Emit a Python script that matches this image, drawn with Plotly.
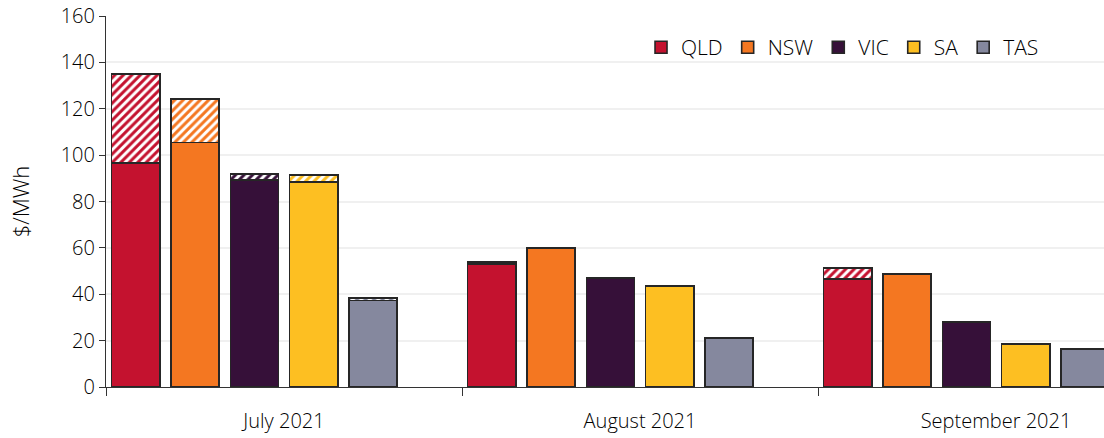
import plotly.graph_objects as go

# Monthly average spot prices by region ($/MWh)
months = ["July 2021", "August 2021", "September 2021"]
regions = ["QLD", "NSW", "VIC", "SA", "TAS"]
colors = ["#C4122F", "#F47721", "#361039", "#FDBF22", "#85889E"]

# Solid portion of each bar
base_qld = [96.5, 53.0, 46.6]
base_nsw = [105.5, 60.0, 48.7]
base_vic = [89.3, 47.0, 28.0]
base_sa = [88.5, 43.6, 18.5]
base_tas = [37.3, 21.1, 16.4]

# Hatched increment stacked on top (None = no increment)
extra_qld = [38.5, 0.8, 4.7]
extra_nsw = [18.7, None, None]
extra_vic = [2.5, None, None]
extra_sa = [2.9, None, None]
extra_tas = [1.1, None, None]

bases = [base_qld, base_nsw, base_vic, base_sa, base_tas]
extras = [extra_qld, extra_nsw, extra_vic, extra_sa, extra_tas]

SLOTS = 6          # bar slots per month group (last slot left empty)
BAR_W = 0.81
EDGE = "#262626"

fig = go.Figure()
for r, (name, col, b, e) in enumerate(zip(regions, colors, bases, extras)):
    xs = [m * SLOTS + r + 0.5 for m in range(len(months))]
    fig.add_trace(go.Bar(
        x=xs, y=b, name=name, width=BAR_W,
        marker=dict(color=col, line=dict(color=EDGE, width=1.6)),
        legendgroup=name,
    ))
    fig.add_trace(go.Bar(
        x=xs, y=e, name=name, width=BAR_W, showlegend=False,
        legendgroup=name,
        marker=dict(
            color="white",
            line=dict(color=EDGE, width=1.6),
            pattern=dict(shape="/", fgcolor=col, bgcolor="white",
                         fgopacity=1, size=6, solidity=0.5,
                         fillmode="overlay"),
        ),
    ))

font_family = "Open Sans, Noto Sans, sans-serif"
TEXT = "#000000"
n_groups = len(months)
group_edges = [m * SLOTS for m in range(n_groups + 1)]
group_centers = [m * SLOTS + SLOTS / 2 for m in range(n_groups)]

fig.update_layout(
    width=1104, height=438,
    margin=dict(l=106, r=0, t=16, b=51),
    paper_bgcolor="white", plot_bgcolor="white",
    barmode="stack",
    font=dict(family=font_family, size=20, color=TEXT, weight=300),
    showlegend=True,
    legend=dict(
        orientation="h", x=0.738, y=0.915, xanchor="center", yanchor="middle",
        bgcolor="rgba(0,0,0,0)",
        font=dict(size=21, color=TEXT, weight=300),
        itemwidth=30, traceorder="normal",
    ),
    xaxis=dict(
        range=[0, 998 / (356 / SLOTS)],
        showline=True, linecolor="#333333", linewidth=1.2,
        showgrid=False, zeroline=False,
        tickmode="array", tickvals=group_centers, ticktext=months,
        ticks="", ticklabelstandoff=16,
        tickfont=dict(size=20, color=TEXT, weight=300),
        minor=dict(tickmode="array", tickvals=group_edges, ticks="outside",
                   ticklen=8, tickwidth=1.2, tickcolor="#333333", showgrid=False),
    ),
    yaxis=dict(
        range=[0, 160], dtick=20,
        showline=True, linecolor="#333333", linewidth=1.2,
        showgrid=True, gridcolor="#f0f0f0", gridwidth=1.5,
        zeroline=False,
        ticks="outside", ticklen=6, tickwidth=1.2, tickcolor="#333333",
        tickfont=dict(size=20, color=TEXT, weight=300),
        title=dict(text="$/MWh", font=dict(size=22, color=TEXT, weight=300),
                   standoff=24),
    ),
)

fig.write_html("out.html")
